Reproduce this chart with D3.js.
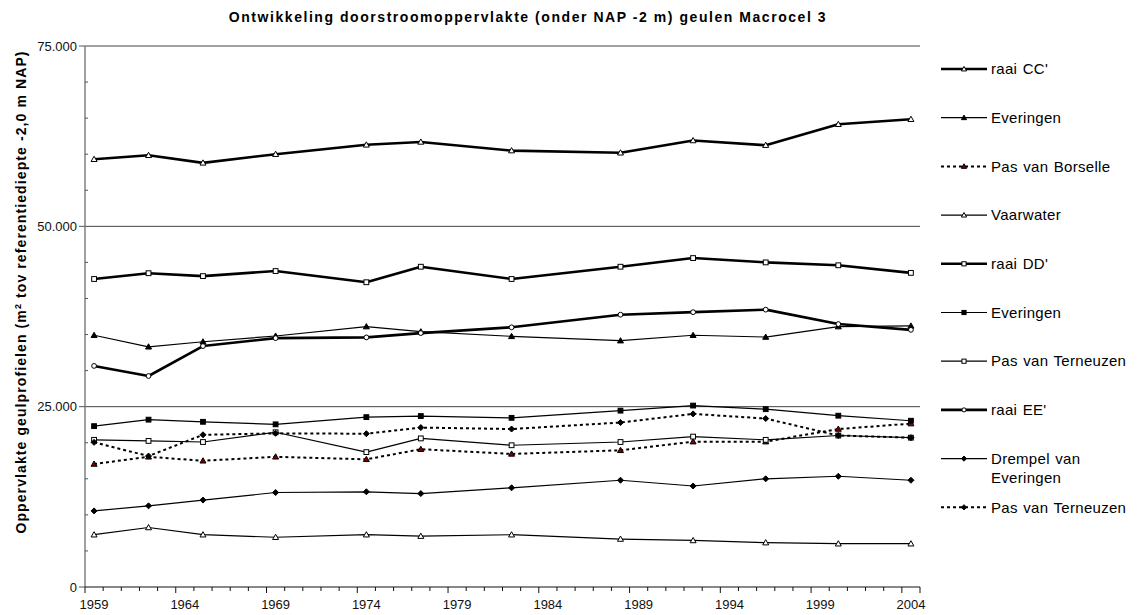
<!DOCTYPE html>
<html>
<head>
<meta charset="utf-8">
<script src="https://cdn.jsdelivr.net/npm/d3@7/dist/d3.min.js"></script>
<style>
  html, body { margin: 0; padding: 0; background: #fff; }
  svg { display: block; font-family: "Liberation Sans", Arial, sans-serif; }
</style>
</head>
<body>
<svg id="chart" width="1138" height="615"></svg>
<script>
// ---- data ----
const title = "Ontwikkeling doorstroomoppervlakte (onder NAP -2 m) geulen Macrocel 3";
const yTitleMain = "Oppervlakte geulprofielen (m";
const yTitleSup = "2";
const yTitleRest = " tov referentiediepte -2,0 m NAP)";
const axisYears = d3.range(1959, 2005);           // category axis, one slot per year
const tickLabels = ["1959", "1964", "1969", "1974", "1979", "1984", "1989", "1994", "1999", "2004"];
const yTicks = [0, 25000, 50000, 75000];
const years = [1959, 1962, 1965, 1969, 1974, 1977, 1982, 1988, 1992, 1996, 2000, 2004];

const raaiCC         = [59300, 59850, 58800, 60000, 61300, 61700, 60500, 60200, 61900, 61250, 64150, 64850];
const everingenTri   = [34900, 33300, 34000, 34800, 36100, 35400, 34750, 34150, 34900, 34650, 36100, 36200];
const pasBorselle    = [17050, 18050, 17500, 18050, 17700, 19100, 18450, 18950, 20150, 20150, 21900, 22650];
const vaarwater      = [7250, 8250, 7250, 6900, 7250, 7050, 7250, 6650, 6450, 6150, 6000, 6000];
const raaiDD         = [42700, 43500, 43100, 43800, 42250, 44400, 42700, 44400, 45600, 45000, 44600, 43550];
const everingenSq    = [22300, 23200, 22900, 22550, 23550, 23700, 23450, 24450, 25150, 24650, 23750, 23050];
const pasTerneuzenSq = [20400, 20250, 20100, 21450, 18700, 20600, 19650, 20100, 20850, 20400, 21000, 20700];
const raaiEE         = [30650, 29250, 33400, 34500, 34600, 35200, 36000, 37750, 38100, 38450, 36450, 35650];
const drempel        = [10550, 11250, 12050, 13100, 13200, 12950, 13750, 14800, 14000, 15000, 15350, 14800];
const pasTerneuzenDot= [20050, 18150, 21100, 21300, 21250, 22100, 21900, 22800, 24000, 23350, 21000, 20700];

const seriesNames = ["raai CC'", "Everingen", "Pas van Borselle", "Vaarwater", "raai DD'", "Everingen",
                     "Pas van Terneuzen", "raai EE'", "Drempel van|Everingen", "Pas van Terneuzen"];
const seriesValues = [raaiCC, everingenTri, pasBorselle, vaarwater, raaiDD, everingenSq,
                      pasTerneuzenSq, raaiEE, drempel, pasTerneuzenDot];
// style: [line width, dashed, marker shape, marker fill]
const seriesStyle = [
  [2.6, false, "tri", "#fff"],
  [1.2, false, "tri", "#000"],
  [2.0, true,  "tri", "#7a0000"],
  [1.2, false, "tri", "#fff"],
  [2.6, false, "sq",  "#fff"],
  [1.2, false, "sq",  "#000"],
  [1.2, false, "sq",  "#fff"],
  [2.6, false, "circ","#fff"],
  [1.2, false, "dia", "#000"],
  [2.0, true,  "dia", "#000"]
];

// ---- layout ----
const svg = d3.select("#chart");
const plot = { left: 85, right: 920, top: 46, bottom: 587 };

const x = d3.scaleBand().domain(axisYears).range([plot.left, plot.right]).padding(0);
const y = d3.scaleLinear().domain([0, 75000]).range([plot.bottom, plot.top]);
const cx = yr => x(yr) + x.bandwidth() / 2;

// gridlines
svg.append("g").selectAll("line").data(yTicks.filter(d => d > 0)).join("line")
  .attr("x1", plot.left).attr("x2", plot.right)
  .attr("y1", d => y(d)).attr("y2", d => y(d))
  .attr("stroke", "#444").attr("stroke-width", 1);

// y axis
const yAxis = svg.append("g");
yAxis.append("line").attr("x1", plot.left).attr("x2", plot.left)
  .attr("y1", plot.top).attr("y2", plot.bottom).attr("stroke", "#808080").attr("stroke-width", 1.5);
yAxis.selectAll("line.minor").data(d3.range(5000, 75000, 5000).filter(v => v % 25000 !== 0)).join("line")
  .attr("class", "minor")
  .attr("x1", plot.left).attr("x2", plot.left + 3)
  .attr("y1", d => y(d)).attr("y2", d => y(d)).attr("stroke", "#555");
yAxis.selectAll("line.major").data(yTicks).join("line")
  .attr("class", "major")
  .attr("x1", plot.left - 6).attr("x2", plot.left)
  .attr("y1", d => y(d)).attr("y2", d => y(d)).attr("stroke", "#555");
yAxis.selectAll("text").data(yTicks).join("text")
  .attr("x", plot.left - 8).attr("y", d => y(d)).attr("dy", "0.35em")
  .attr("text-anchor", "end").attr("font-size", 13).attr("fill", "#111")
  .text(d => d3.format(",")(d).replace(/,/g, "."));

// x axis
const xAxis = svg.append("g");
xAxis.append("line").attr("x1", plot.left).attr("x2", plot.right)
  .attr("y1", plot.bottom).attr("y2", plot.bottom).attr("stroke", "#111").attr("stroke-width", 1);
xAxis.selectAll("line.tick").data(axisYears.concat([2005])).join("line")
  .attr("class", "tick")
  .attr("x1", d => d === 2005 ? plot.right : x(d)).attr("x2", d => d === 2005 ? plot.right : x(d))
  .attr("y1", plot.bottom)
  .attr("y2", d => ((d - 1959) % 5 === 0 || d === 2005) ? plot.bottom + 6 : plot.bottom + 4)
  .attr("stroke", "#111");
xAxis.selectAll("text").data(tickLabels).join("text")
  .attr("x", d => cx(+d)).attr("y", plot.bottom + 22)
  .attr("text-anchor", "middle").attr("font-size", 13).attr("fill", "#111")
  .text(d => d);

// title
svg.append("text").attr("x", 528).attr("y", 22).attr("text-anchor", "middle")
  .attr("font-size", 14).attr("font-weight", "bold").attr("letter-spacing", 1.55)
  .text(title);

// y title
const yt = svg.append("text")
  .attr("transform", "translate(26,292) rotate(-90)")
  .attr("text-anchor", "middle").attr("font-size", 14).attr("font-weight", "bold").attr("letter-spacing", 1.1);
yt.append("tspan").text(yTitleMain);
yt.append("tspan").attr("font-size", 9).attr("dy", -5).text(yTitleSup);
yt.append("tspan").attr("dy", 5).text(yTitleRest);

// markers
function drawMarker(g, shape, fill, px, py, s) {
  if (shape === "tri") {
    g.append("path").attr("d", `M${px},${py - s} L${px + s},${py + s * 0.75} L${px - s},${py + s * 0.75} Z`)
      .attr("fill", fill).attr("stroke", "#000").attr("stroke-width", 1);
  } else if (shape === "sq") {
    g.append("rect").attr("x", px - s * 0.8).attr("y", py - s * 0.8).attr("width", s * 1.6).attr("height", s * 1.6)
      .attr("fill", fill).attr("stroke", "#000").attr("stroke-width", 1);
  } else if (shape === "circ") {
    g.append("circle").attr("cx", px).attr("cy", py).attr("r", s * 0.8)
      .attr("fill", fill).attr("stroke", "#000").attr("stroke-width", 1);
  } else {
    g.append("path").attr("d", `M${px},${py - s} L${px + s},${py} L${px},${py + s} L${px - s},${py} Z`)
      .attr("fill", fill).attr("stroke", "#000").attr("stroke-width", 1);
  }
}

const line = d3.line().x((d, i) => cx(years[i])).y(d => y(d));
const seriesG = svg.append("g");
seriesValues.forEach((vals, si) => {
  const [w, dashed, shape, fill] = seriesStyle[si];
  seriesG.append("path").datum(vals).attr("d", line)
    .attr("fill", "none").attr("stroke", "#000").attr("stroke-width", w)
    .attr("stroke-dasharray", dashed ? "3,3" : null).attr("stroke-linejoin", "round");
});
seriesValues.forEach((vals, si) => {
  const [w, dashed, shape, fill] = seriesStyle[si];
  const g = seriesG.append("g");
  vals.forEach((v, i) => drawMarker(g, shape, fill, cx(years[i]), y(v), 3));
});

// legend
const legend = svg.append("g");
seriesNames.forEach((name, i) => {
  const [w, dashed, shape, fill] = seriesStyle[i];
  const ly = 69 + i * 48.7;
  legend.append("line").attr("x1", 941).attr("x2", 987).attr("y1", ly).attr("y2", ly)
    .attr("stroke", "#000").attr("stroke-width", w).attr("stroke-dasharray", dashed ? "3,3" : null);
  drawMarker(legend, shape, fill, 964, ly, 2.6);
  const parts = name.split("|");
  const t = legend.append("text").attr("x", 991).attr("y", ly)
    .attr("font-size", 15).attr("letter-spacing", 0.3).attr("word-spacing", 1);
  parts.forEach((p, k) => t.append("tspan").attr("x", 991).attr("dy", k === 0 ? "0.35em" : 19).text(p));
});
</script>
</body>
</html>
